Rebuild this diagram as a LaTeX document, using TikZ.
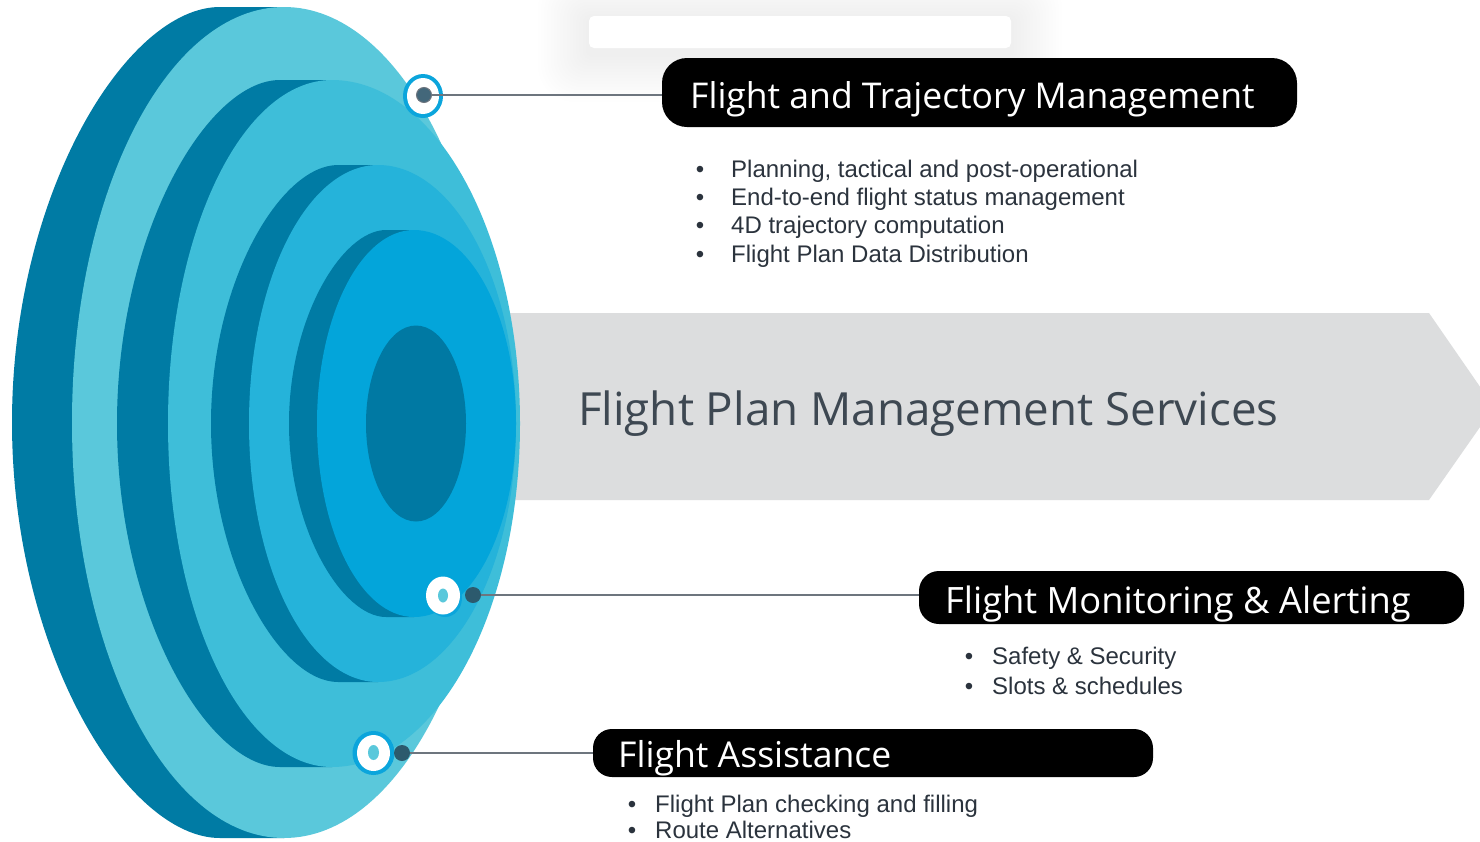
\documentclass[tikz,border=0pt]{standalone}
\usepackage{fontspec}
\setmainfont{Liberation Sans}
\newfontfamily\segf{Open Sans}
\definecolor{cdark}{HTML}{007BA4}
\definecolor{cla}{HTML}{5AC8DB}
\definecolor{clb}{HTML}{3EBED9}
\definecolor{clc}{HTML}{25B3DA}
\definecolor{cld}{HTML}{03A5DA}
\definecolor{cinner}{HTML}{0079A3}
\definecolor{ringblue}{HTML}{0BA5DC}
\definecolor{dotdark}{HTML}{2C5A6D}
\definecolor{dotgrey}{HTML}{43677A}
\definecolor{linegrey}{HTML}{6D757E}
\definecolor{arrowgrey}{HTML}{DCDDDE}
\definecolor{titlegrey}{HTML}{3E4852}
\definecolor{bullettext}{HTML}{2B333D}
\newcommand\lightlayer[6]{%
  \fill[#6] (#1,{#2-#3}) .. controls ({#1-0.5523*#4},{#2-#3}) and ({#1-#4},{#2-0.5523*#3}) .. ({#1-#4},#2)
    .. controls ({#1-#4},{#2+0.5523*#3}) and ({#1-0.5523*#4},{#2+#3}) .. (#1,{#2+#3})
    .. controls ({#1+0.5523*#5},{#2+#3}) and ({#1+#5},{#2+0.5523*#3}) .. ({#1+#5},#2)
    .. controls ({#1+#5},{#2-0.5523*#3}) and ({#1+0.5523*#5},{#2-#3}) .. (#1,{#2-#3}) -- cycle;}
\newcommand\darklayer[6]{%
  \fill[#6] (#2,{#3-#4}) -- (#1,{#3-#4}) .. controls ({#1-0.45*#5},{#3-#4}) and ({#1-#5},{#3-0.55*#4}) .. ({#1-#5},#3)
    .. controls ({#1-#5},{#3+0.55*#4}) and ({#1-0.45*#5},{#3+#4}) .. (#1,{#3+#4}) -- (#2,{#3+#4}) -- cycle;}
\tikzset{
  blackbox/.style={fill=black, rounded corners=22pt, inner sep=0pt, draw=none},
  boxtext/.style={anchor=base west, inner sep=0pt, text=white},
  bul/.style={anchor=base, inner sep=0pt, text=bullettext, font=\fontsize{24}{28}\selectfont},
  bultext/.style={anchor=base west, inner sep=0pt, text=bullettext, font=\fontsize{24}{28}\selectfont},
  connector/.style={draw=linegrey, line width=2.2pt},
  darkdot/.style={circle, fill=dotdark, minimum size=16pt, inner sep=0pt},
}
\begin{document}
\begin{tikzpicture}[x=1pt,y=-1pt]
\useasboundingbox (0,0) rectangle (1480,841);
\clip (0,0) rectangle (1480,841);
\fill[white] (0,0) rectangle (1480,841);
% faint shadowed panel at top
\foreach \i in {1,...,16}{
  \fill[black, opacity=0.0035, rounded corners={5pt+2*\i pt}] ({589-3.2*\i},{20-3*\i}) rectangle ({1011+3.2*\i},{54+3*\i});
}
\fill[white, rounded corners=5pt] (589,16) rectangle (1011,48);
% grey arrow
\fill[arrowgrey] (505,313) -- (1429,313) -- (1494,407) -- (1429,500) -- (505,500) -- cycle;
\node[anchor=base west, inner sep=0pt, text=titlegrey, font=\segf\fontsize{45.7}{50}\selectfont] (title) at (578,425) {Flight Plan Management Services};
% layered discs
\darklayer{220}{284}{422.5}{415.5}{208}{cdark}
\lightlayer{284}{422.5}{415.5}{212}{212}{cla}
\darklayer{280}{332}{423.5}{343.5}{163}{cdark}
\lightlayer{332}{423.5}{343.5}{164}{188}{clb}
\darklayer{338}{378}{423.5}{258.5}{127}{cdark}
\lightlayer{378}{423.5}{258.5}{129}{138}{clc}
\darklayer{386}{414}{423.5}{193.5}{97}{cdark}
\lightlayer{414}{423.5}{193.5}{97}{102}{cld}
\fill[cinner] (416,423.5) ellipse [x radius=50pt, y radius=98pt];
% ring 1
\fill[ringblue] (423,96) ellipse [x radius=20pt, y radius=22pt];
\fill[white] (423,96) ellipse [x radius=16pt, y radius=18pt];
\node[circle, fill=dotgrey, draw=linegrey, line width=1pt, minimum size=15pt, inner sep=0pt] (d1) at (424,95) {};
% ring 2
\fill[ringblue] (445,598) ellipse [x radius=17pt, y radius=19pt];
\fill[white] (443,595.5) ellipse [x radius=17pt, y radius=19pt];
\fill[cla] (443,595.5) ellipse [x radius=5pt, y radius=7pt];
\node[darkdot] (d2) at (473,595) {};
% ring 3
\fill[ringblue] (373.5,753) ellipse [x radius=21pt, y radius=22pt];
\fill[white] (373.5,753) ellipse [x radius=16.5pt, y radius=18pt];
\fill[cla] (373.5,752.5) ellipse [x radius=5.5pt, y radius=7.5pt];
\node[darkdot] (d3) at (402,753) {};
% boxes
\node[blackbox, minimum width=635pt, minimum height=69pt, rounded corners=25pt] (b1) at (979.5,92.5) {};
\node[blackbox, minimum width=545pt, minimum height=53pt, rounded corners=20pt] (b2) at (1191.5,597.5) {};
\node[blackbox, minimum width=560pt, minimum height=48pt, rounded corners=19pt] (b3) at (873,753) {};
\node[boxtext, font=\segf\fontsize{35.5}{40}\selectfont] (t1) at (690,108) {Flight and Trajectory Management};
\node[boxtext, font=\segf\fontsize{36.3}{40}\selectfont] (t2) at (945,613) {Flight Monitoring \& Alerting};
\node[boxtext, font=\segf\fontsize{35.6}{40}\selectfont] (t3) at (618,767) {Flight Assistance};
% connectors
\draw[connector] (d1.east) -- (d1.east -| b1.west);
\draw[connector] (d2.east) -- (d2.east -| b2.west);
\draw[connector] (d3.east) -- (d3.east -| b3.west);
% bullets
\node[bul] (p1) at (700,177) {•};
\node[bultext] (q1) at (731,177) {Planning, tactical and post-operational};
\node[bul] (p2) at (700,205.5) {•};
\node[bultext] (q2) at (731,205.5) {End-to-end flight status management};
\node[bul] (p3) at (700,233.5) {•};
\node[bultext] (q3) at (731,233.5) {4D trajectory computation};
\node[bul] (p4) at (700,262) {•};
\node[bultext] (q4) at (731,262) {Flight Plan Data Distribution};
\node[bul] (r1) at (969,664) {•};
\node[bultext] (s1) at (992,664) {Safety \& Security};
\node[bul] (r2) at (969,694) {•};
\node[bultext] (s2) at (992,694) {Slots \& schedules};
\node[bul] (u1) at (632,812.5) {•};
\node[bultext] (v1) at (655,812.5) {Flight Plan checking and filling};
\node[bul] (u2) at (632,838.5) {•};
\node[bultext] (v2) at (655,838.5) {Route Alternatives};
\end{tikzpicture}
\end{document}
